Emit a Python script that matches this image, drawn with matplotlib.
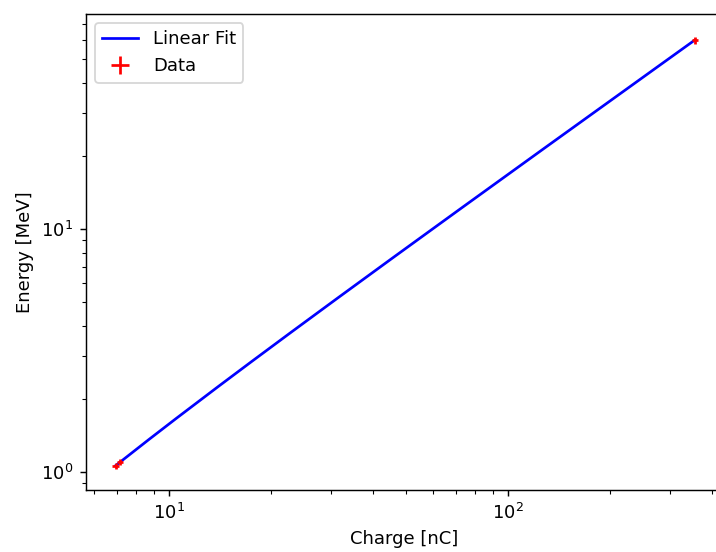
import numpy as np
import matplotlib
matplotlib.use("Agg")
import matplotlib.pyplot as plt

charge = np.array([6.95, 7.15, 355.0])
energy = np.array([1.06, 1.10, 60.0])
charge_err = np.array([0.15, 0.15, 7.0])
energy_err = np.array([0.03, 0.03, 2.0])

slope, intercept = np.polyfit(charge, energy, 1)
xfit = np.linspace(charge.min(), charge.max(), 200)
yfit = slope * xfit + intercept

DPI = 130
fig = plt.figure(figsize=(716/DPI, 552/DPI), dpi=DPI)
ax = fig.add_axes([86/716, 1-490/552, 636/716, 476/552])
ax.plot(xfit, yfit, color="blue", label="Linear Fit")
ax.errorbar(charge, energy, xerr=charge_err, yerr=energy_err, fmt="none",
            ecolor="red", label="Data")
ax.set_xscale("log")
ax.set_yscale("log")
ax.set_xlim(5.68, 427)
ax.set_ylim(0.843, 76.8)
ax.set_xlabel("Charge [nC]")
ax.set_ylabel("Energy [MeV]")
ax.legend(loc="upper left")
fig.savefig("out.png", dpi=DPI)
